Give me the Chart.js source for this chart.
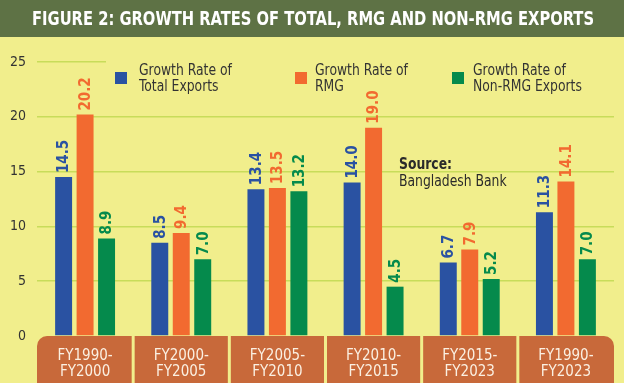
<!DOCTYPE html>
<html>
<head>
<meta charset="utf-8">
<script src="https://cdn.jsdelivr.net/npm/chart.js@4.4.0/dist/chart.umd.min.js"></script>
<style>
  html, body { margin:0; padding:0; background:#f1ee8c; }
  canvas { display:block; }
</style>
</head>
<body>
<canvas id="growthChart" width="624" height="383"></canvas>
<script>
// Dados
const periods = [
  ['FY1990-', 'FY2000'],
  ['FY2000-', 'FY2005'],
  ['FY2005-', 'FY2010'],
  ['FY2010-', 'FY2015'],
  ['FY2015-', 'FY2023'],
  ['FY1990-', 'FY2023']
];
const totalExports = [14.5, 8.5, 13.4, 14.0, 6.7, 11.3];
const rmgExports   = [20.2, 9.4, 13.5, 19.0, 7.9, 14.1];
const nonRmg       = [8.9, 7.0, 13.2, 4.5, 5.2, 7.0];
const yTicks = [0, 5, 10, 15, 20, 25];
const legendLines = [
  ['Growth Rate of', 'Total Exports'],
  ['Growth Rate of', 'RMG'],
  ['Growth Rate of', 'Non-RMG Exports']
];
const sourceLines = ['Source:', 'Bangladesh Bank'];
const titleText = 'FIGURE 2: GROWTH RATES OF TOTAL, RMG AND NON-RMG EXPORTS';

const BLUE = '#2a52a2', ORANGE = '#f26a30', GREEN = '#058a4c';
const BG = '#f1ee8c', BAR_TITLE = '#5e7245', BOX = '#c8693a';
const COND = '"DejaVu Sans Condensed", sans-serif';

// texto estreitado na horizontal (nao ha fonte narrow instalada)
function narrowText(ctx, txt, x, y, sx) {
  ctx.save();
  ctx.translate(x, y);
  ctx.scale(sx, 1);
  ctx.fillText(txt, 0, 0);
  ctx.restore();
}

// fundo, faixa do titulo e caixas das categorias
const fundo = {
  id: 'fundo',
  beforeDraw(chart) {
    const { ctx, width, height, chartArea } = chart;
    const x = chart.scales.x;
    ctx.save();
    ctx.fillStyle = BG;
    ctx.fillRect(0, 0, width, height);
    ctx.fillStyle = BAR_TITLE;
    ctx.fillRect(0, 0, width, 37);

    // titulo
    ctx.fillStyle = '#ffffff';
    ctx.font = 'bold 20px ' + COND;
    ctx.textBaseline = 'middle';
    ctx.textAlign = 'left';
    const tw = ctx.measureText(titleText).width;
    const sx = 562 / tw;
    narrowText(ctx, titleText, 313 - 281, 20, sx);

    const n = periods.length;
    const w = (chartArea.right - chartArea.left) / n;
    ctx.fillStyle = BOX;
    for (let i = 0; i < n; i++) {
      const cx = x.getPixelForValue(i);
      const left = cx - w / 2 + (i === 0 ? 0 : 1.5);
      const right = cx + w / 2 - (i === n - 1 ? 0 : 1.5);
      ctx.beginPath();
      ctx.roundRect(left, chartArea.bottom, right - left, height - chartArea.bottom,
        [i === 0 ? 10 : 0, i === n - 1 ? 10 : 0, 0, 0]);
      ctx.fill();
    }
    ctx.restore();
  }
};

// legenda manual (duas linhas por item)
const legenda = {
  id: 'legenda',
  beforeDatasetsDraw(chart) {
    const { ctx } = chart;
    ctx.save();
    ctx.fillStyle = BG;
    ctx.fillRect(106, 56, 514, 42);
    const sq = [115, 295, 452];
    const tx = [139, 315, 473];
    chart.data.datasets.forEach((ds, i) => {
      ctx.fillStyle = ds.backgroundColor;
      ctx.fillRect(sq[i], 72, 12, 12);
      ctx.fillStyle = '#333';
      ctx.font = '16px ' + COND;
      ctx.textBaseline = 'middle';
      ctx.textAlign = 'left';
      legendLines[i].forEach((l, j) => narrowText(ctx, l, tx[i], 71 + j * 16, 0.86));
    });
    ctx.restore();
  },
  afterDatasetsDraw(chart) {
    const { ctx } = chart;
    ctx.save();
    // rotulos dos valores, verticais
    chart.data.datasets.forEach((ds, di) => {
      const meta = chart.getDatasetMeta(di);
      meta.data.forEach((bar, i) => {
        ctx.save();
        ctx.translate(bar.x, bar.y - 4);
        ctx.rotate(-Math.PI / 2);
        ctx.fillStyle = ds.backgroundColor;
        ctx.font = 'bold 15px ' + COND;
        ctx.textAlign = 'left';
        ctx.textBaseline = 'middle';
        ctx.fillText(ds.data[i].toFixed(1), 0, 1);
        ctx.restore();
      });
    });
    // fonte
    ctx.fillStyle = '#2a2a2a';
    ctx.textBaseline = 'middle';
    ctx.textAlign = 'left';
    ctx.font = 'bold 16px ' + COND;
    narrowText(ctx, sourceLines[0], 399, 165, 0.86);
    ctx.font = '16px ' + COND;
    narrowText(ctx, sourceLines[1], 399, 182, 0.86);
    ctx.restore();
  }
};

new Chart(
  document.getElementById('growthChart'),
  {
    type: 'bar',
    data: {
      labels: periods,
      datasets: [
        { label: legendLines[0].join(' '), data: totalExports, backgroundColor: BLUE },
        { label: legendLines[1].join(' '), data: rmgExports, backgroundColor: ORANGE },
        { label: legendLines[2].join(' '), data: nonRmg, backgroundColor: GREEN }
      ]
    },
    options: {
      responsive: false,
      animation: false,
      devicePixelRatio: 1,
      datasets: { bar: { barPercentage: 0.79, categoryPercentage: 0.67 } },
      layout: { padding: { left: 0, right: 10, top: 62, bottom: 0 } },
      plugins: {
        legend: { display: false },
        tooltip: { enabled: false },
        title: { display: false }
      },
      scales: {
        x: {
          grid: { display: false },
          border: { display: false },
          ticks: {
            color: '#fbf0e2',
            font: { family: COND, size: 15, lineHeight: 1.05 },
            padding: 4,
            maxRotation: 0,
            autoSkip: false
          },
          afterFit: s => { s.height = 47; }
        },
        y: {
          min: 0,
          max: 25,
          afterBuildTicks: s => { s.ticks = yTicks.map(v => ({ value: v })); },
          grid: {
            color: c => (c.tick && c.tick.value === 0) ? 'rgba(0,0,0,0)' : '#c8dc5a',
            lineWidth: 1.5,
            drawTicks: false
          },
          border: { display: false },
          ticks: {
            color: '#333',
            font: { family: COND, size: 14 },
            padding: 11
          },
          afterFit: s => { s.width = 37; }
        }
      }
    },
    plugins: [fundo, legenda]
  }
);
</script>
</body>
</html>
